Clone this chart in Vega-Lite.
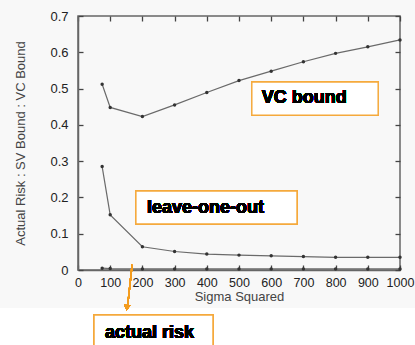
{
  "$schema": "https://vega.github.io/schema/vega-lite/v6.json",
  "width": 322,
  "height": 254,
  "autosize": "none",
  "padding": {"left": 78, "top": 16, "right": 15, "bottom": 75},
  "background": "#f8f8f8",
  "resolve": {"axis": {"x": "independent", "y": "independent"}},
  "config": {
    "view": {"stroke": "#666", "strokeWidth": 1.5},
    "font": "Liberation Sans",
    "axis": {"zindex": 1, "labelFont": "Liberation Sans", "titleFont": "Liberation Sans", "labelColor": "#222", "titleColor": "#444", "labelFontSize": 13, "titleFontSize": 13, "titleFontWeight": "normal", "domainColor": "#666", "domainWidth": 1.5, "tickColor": "#444", "tickWidth": 1.3, "grid": false}
  },
  "data": {"values": [
    {"s": 75, "v": 0.512, "series": "VC bound"},
    {"s": 100, "v": 0.448, "series": "VC bound"},
    {"s": 200, "v": 0.423, "series": "VC bound"},
    {"s": 300, "v": 0.455, "series": "VC bound"},
    {"s": 400, "v": 0.489, "series": "VC bound"},
    {"s": 500, "v": 0.522, "series": "VC bound"},
    {"s": 600, "v": 0.548, "series": "VC bound"},
    {"s": 700, "v": 0.574, "series": "VC bound"},
    {"s": 800, "v": 0.597, "series": "VC bound"},
    {"s": 900, "v": 0.615, "series": "VC bound"},
    {"s": 1000, "v": 0.634, "series": "VC bound"},
    {"s": 75, "v": 0.285, "series": "leave-one-out"},
    {"s": 100, "v": 0.152, "series": "leave-one-out"},
    {"s": 200, "v": 0.064, "series": "leave-one-out"},
    {"s": 300, "v": 0.051, "series": "leave-one-out"},
    {"s": 400, "v": 0.044, "series": "leave-one-out"},
    {"s": 500, "v": 0.041, "series": "leave-one-out"},
    {"s": 600, "v": 0.039, "series": "leave-one-out"},
    {"s": 700, "v": 0.037, "series": "leave-one-out"},
    {"s": 800, "v": 0.035, "series": "leave-one-out"},
    {"s": 900, "v": 0.035, "series": "leave-one-out"},
    {"s": 1000, "v": 0.035, "series": "leave-one-out"},
    {"s": 75, "v": 0.005, "series": "actual risk"},
    {"s": 100, "v": 0.004, "series": "actual risk"},
    {"s": 200, "v": 0.003, "series": "actual risk"},
    {"s": 300, "v": 0.003, "series": "actual risk"},
    {"s": 400, "v": 0.003, "series": "actual risk"},
    {"s": 500, "v": 0.003, "series": "actual risk"},
    {"s": 600, "v": 0.003, "series": "actual risk"},
    {"s": 700, "v": 0.003, "series": "actual risk"},
    {"s": 800, "v": 0.003, "series": "actual risk"},
    {"s": 900, "v": 0.003, "series": "actual risk"},
    {"s": 1000, "v": 0.003, "series": "actual risk"}
  ]},
  "layer": [
    {
      "mark": {"type": "rect", "color": "white", "clip": false},
      "encoding": {
        "x": {"datum": -300, "type": "quantitative", "scale": {"domain": [0, 1000]},
          "axis": {"orient": "top", "values": [0,100,200,300,400,500,600,700,800,900,1000], "offset": -5, "tickSize": 5, "labels": false, "title": null, "domain": false}},
        "x2": {"datum": 1200},
        "y": {"datum": -0.105, "type": "quantitative", "scale": {"domain": [0, 0.7]},
          "axis": {"orient": "right", "values": [0,0.1,0.2,0.3,0.4,0.5,0.6,0.7], "offset": -5, "tickSize": 5, "labels": false, "title": null, "domain": false}},
        "y2": {"datum": -0.3}
      }
    },
    {
      "mark": {"type": "line", "color": "#6a6a6a", "strokeWidth": 1.2},
      "encoding": {
        "x": {"field": "s", "type": "quantitative", "scale": {"domain": [0, 1000]},
          "axis": {"orient": "bottom", "values": [0,100,200,300,400,500,600,700,800,900,1000], "offset": -5, "tickSize": 5, "labels": false, "title": null, "domain": false}},
        "y": {"field": "v", "type": "quantitative", "scale": {"domain": [0, 0.7]},
          "axis": {"orient": "left", "values": [0,0.1,0.2,0.3,0.4,0.5,0.6,0.7], "offset": -5, "tickSize": 5, "labels": false, "title": null, "domain": false}},
        "detail": {"field": "series"}
      }
    },
    {
      "mark": {"type": "circle", "color": "#333", "size": 12, "opacity": 1},
      "encoding": {
        "x": {"field": "s", "type": "quantitative", "scale": {"domain": [0, 1000]},
          "axis": {"orient": "bottom", "values": [0,100,200,300,400,500,600,700,800,900,1000], "format": "d", "labelFontSize": 12.5, "ticks": false, "labelPadding": 6, "title": "Sigma Squared", "titlePadding": 2, "labelFlush": false}},
        "y": {"field": "v", "type": "quantitative", "scale": {"domain": [0, 0.7]},
          "axis": {"orient": "left", "values": [0,0.1,0.2,0.3,0.4,0.5,0.6,0.7], "format": ".1~f", "ticks": false, "labelPadding": 10, "title": "Actual Risk : SV Bound : VC Bound", "titlePadding": 22}}
      }
    },
    {
      "mark": {"type": "rect", "fill": "white", "stroke": "#f5a93c", "strokeWidth": 1.3, "clip": false},
      "encoding": {
        "x": {"datum": 540, "type": "quantitative", "scale": {"domain": [0, 1000]}, "axis": null},
        "x2": {"datum": 932},
        "y": {"datum": 0.518, "type": "quantitative", "scale": {"domain": [0, 0.7]}, "axis": null},
        "y2": {"datum": 0.427}
      }
    },
    {
      "mark": {"type": "text", "text": "VC bound", "font": "Liberation Sans", "fontWeight": 700, "fontSize": 18, "align": "left", "baseline": "middle", "color": "black", "clip": false},
      "encoding": {
        "x": {"datum": 571, "type": "quantitative", "scale": {"domain": [0, 1000]}, "axis": null},
        "y": {"datum": 0.474, "type": "quantitative", "scale": {"domain": [0, 0.7]}, "axis": null}
      }
    },
    {
      "mark": {"type": "rect", "fill": "white", "stroke": "#f5a93c", "strokeWidth": 1.3, "clip": false},
      "encoding": {
        "x": {"datum": 180, "type": "quantitative", "scale": {"domain": [0, 1000]}, "axis": null},
        "x2": {"datum": 680},
        "y": {"datum": 0.2177, "type": "quantitative", "scale": {"domain": [0, 0.7]}, "axis": null},
        "y2": {"datum": 0.1268}
      }
    },
    {
      "mark": {"type": "text", "text": "leave-one-out", "font": "Liberation Sans", "fontWeight": 700, "fontSize": 18, "align": "left", "baseline": "middle", "color": "black", "clip": false},
      "encoding": {
        "x": {"datum": 214, "type": "quantitative", "scale": {"domain": [0, 1000]}, "axis": null},
        "y": {"datum": 0.172, "type": "quantitative", "scale": {"domain": [0, 0.7]}, "axis": null}
      }
    },
    {
      "mark": {"type": "rule", "color": "#f39c1f", "strokeWidth": 1.3, "clip": false},
      "encoding": {
        "x": {"datum": 168, "type": "quantitative", "scale": {"domain": [0, 1000]}, "axis": null},
        "x2": {"datum": 154},
        "y": {"datum": 0.014, "type": "quantitative", "scale": {"domain": [0, 0.7]}, "axis": null},
        "y2": {"datum": -0.1}
      }
    },
    {
      "mark": {"type": "point", "shape": "triangle-down", "filled": true, "color": "#f39c1f", "size": 40, "angle": 6, "opacity": 1, "clip": false},
      "encoding": {
        "x": {"datum": 152, "type": "quantitative", "scale": {"domain": [0, 1000]}, "axis": null},
        "y": {"datum": -0.104, "type": "quantitative", "scale": {"domain": [0, 0.7]}, "axis": null}
      }
    },
    {
      "mark": {"type": "rect", "fill": "white", "stroke": "#f5a93c", "strokeWidth": 1.3, "clip": false},
      "encoding": {
        "x": {"datum": 50, "type": "quantitative", "scale": {"domain": [0, 1000]}, "axis": null},
        "x2": {"datum": 419},
        "y": {"datum": -0.124, "type": "quantitative", "scale": {"domain": [0, 0.7]}, "axis": null},
        "y2": {"datum": -0.24}
      }
    },
    {
      "mark": {"type": "text", "text": "actual risk", "font": "Liberation Sans", "fontWeight": 700, "fontSize": 18, "align": "left", "baseline": "middle", "color": "black", "clip": false},
      "encoding": {
        "x": {"datum": 84, "type": "quantitative", "scale": {"domain": [0, 1000]}, "axis": null},
        "y": {"datum": -0.174, "type": "quantitative", "scale": {"domain": [0, 0.7]}, "axis": null}
      }
    }
  ]
}
